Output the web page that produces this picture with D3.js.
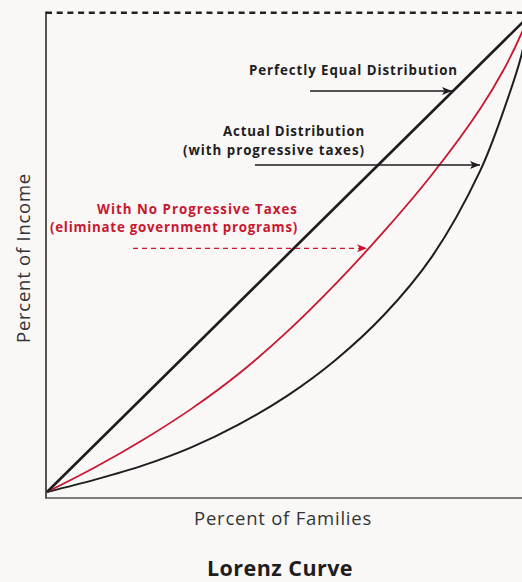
<!DOCTYPE html>
<html>
<head>
<meta charset="utf-8">
<script src="https://cdn.jsdelivr.net/npm/d3@7/dist/d3.min.js"></script>
<style>
html,body{margin:0;padding:0;background:#f9f8f7;}
svg{display:block;}
text{font-family:"Open Sans",Lato,sans-serif;}
</style>
</head>
<body>
<svg id="chart" width="522" height="582"></svg>
<script>
// Data (fractions of families vs fractions of income)
const families     = [0, 0.1, 0.2, 0.3, 0.4, 0.5, 0.6, 0.7, 0.8, 0.9, 0.95, 0.9875, 1];
const equalIncome  = [0, 0.1, 0.2, 0.3, 0.4, 0.5, 0.6, 0.7, 0.8, 0.9, 0.95, 0.9875, 1];
const noTaxIncome  = [0, 0.052, 0.11, 0.175, 0.25, 0.338, 0.438, 0.548, 0.668, 0.806, 0.89, 0.968, 1];
const actualIncome = [0, 0.026, 0.056, 0.094, 0.143, 0.203, 0.278, 0.372, 0.495, 0.675, 0.805, 0.924, 1];

const xLabel = "Percent of Families";
const yLabel = "Percent of Income";
const title = "Lorenz Curve";
const equalLabel = ["Perfectly Equal Distribution"];
const actualLabel = ["Actual Distribution", "(with progressive taxes)"];
const noTaxLabel = ["With No Progressive Taxes", "(eliminate government programs)"];

const black = "#1f1d1e", red = "#c8172f";

const svg = d3.select("#chart");
const x = d3.scaleLinear().domain([0, 1]).range([47, 528]);
const y = d3.scaleLinear().domain([0, 1]).range([492, 17]);

// widen a text (via letter-spacing) to a measured target width
function fit(sel, width) {
  const n = sel.text().length;
  const w = sel.node().getComputedTextLength();
  sel.attr("letter-spacing", Math.max(0, (width - w) / n));
  return sel;
}

// marker defs
const defs = svg.append("defs");
function marker(id, color) {
  defs.append("marker").attr("id", id).attr("viewBox", "0 0 10 8")
    .attr("refX", 10).attr("refY", 4).attr("markerWidth", 10).attr("markerHeight", 8)
    .attr("markerUnits", "userSpaceOnUse").attr("orient", "auto")
    .append("path").attr("d", "M0,0 L10,4 L0,8 L2.5,4 Z").attr("fill", color);
}
marker("arrBlack", black);
marker("arrRed", red);

// frame: top dashed line, left axis, bottom axis
svg.append("line").attr("x1", 46).attr("x2", 522).attr("y1", 12.7).attr("y2", 12.7)
  .attr("stroke", "#222").attr("stroke-width", 2.4).attr("stroke-dasharray", "6,4.7");
svg.append("line").attr("x1", 46).attr("x2", 46).attr("y1", 11.5).attr("y2", 498.5)
  .attr("stroke", "#2a2a2a").attr("stroke-width", 1.6);
svg.append("line").attr("x1", 45.2).attr("x2", 522).attr("y1", 498).attr("y2", 498)
  .attr("stroke", "#555").attr("stroke-width", 1.5);

const pts = arr => families.map((f, i) => [f, arr[i]]);
const line = d3.line().x(d => x(d[0])).y(d => y(d[1])).curve(d3.curveCatmullRom.alpha(0.5));

svg.append("path").attr("d", line(pts(actualIncome))).attr("fill", "none")
  .attr("stroke", black).attr("stroke-width", 2);
svg.append("path").attr("d", line(pts(noTaxIncome))).attr("fill", "none")
  .attr("stroke", red).attr("stroke-width", 1.8);
svg.append("path").attr("d", d3.line().x(d => x(d[0])).y(d => y(d[1]))(pts(equalIncome)))
  .attr("fill", "none").attr("stroke", black).attr("stroke-width", 2.6);

// annotations
function label(lines, xr, y0, dy, color, widths) {
  const t = svg.append("text").attr("text-anchor", "end").attr("fill", color)
    .attr("font-weight", 700).attr("font-size", 13.3);
  lines.forEach((s, i) => {
    const sp = t.append("tspan").attr("x", xr).attr("y", y0 + i * dy).text(s);
    fit(sp, widths[i]);
  });
}
label(equalLabel, 458, 75, 20, black, [209]);
label(actualLabel, 365, 136, 19, black, [142, 182]);
label(noTaxLabel, 298, 214, 18, red, [201, 248]);

svg.append("line").attr("x1", 310).attr("x2", 452).attr("y1", 91).attr("y2", 91)
  .attr("stroke", black).attr("stroke-width", 1.5).attr("marker-end", "url(#arrBlack)");
svg.append("line").attr("x1", 255).attr("x2", 480).attr("y1", 165).attr("y2", 165)
  .attr("stroke", black).attr("stroke-width", 1.5).attr("marker-end", "url(#arrBlack)");
svg.append("line").attr("x1", 133).attr("x2", 367).attr("y1", 248.3).attr("y2", 248.3)
  .attr("stroke", red).attr("stroke-width", 1.3).attr("stroke-dasharray", "5,4")
  .attr("marker-end", "url(#arrRed)");

// axis labels and title
fit(svg.append("text").attr("x", 283).attr("y", 525).attr("text-anchor", "middle")
  .attr("font-size", 18.5).attr("fill", "#333").text(xLabel), 178);
fit(svg.append("text").attr("transform", "translate(30,258) rotate(-90)").attr("text-anchor", "middle")
  .attr("font-size", 18.5).attr("fill", "#333").text(yLabel), 170);
fit(svg.append("text").attr("x", 280).attr("y", 576).attr("text-anchor", "middle")
  .attr("font-size", 21.5).attr("font-weight", 700).attr("fill", black).text(title), 146);
</script>
</body>
</html>
